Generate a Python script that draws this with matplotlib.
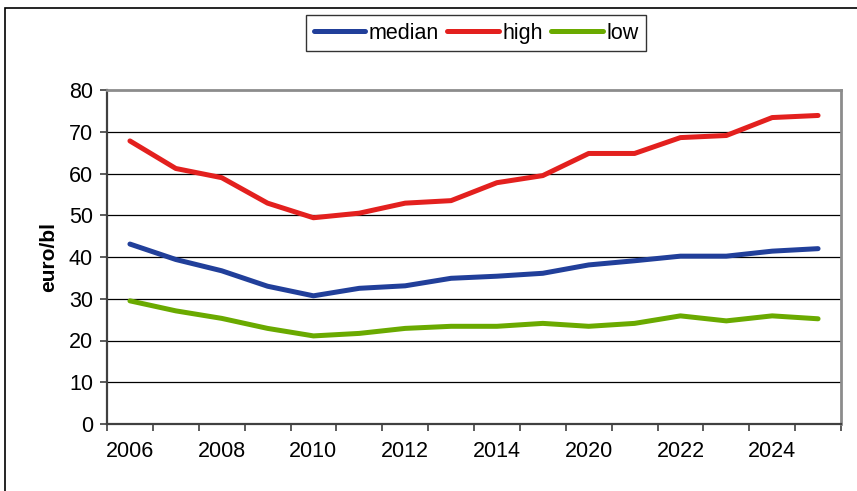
import matplotlib
matplotlib.use("Agg")
import matplotlib.pyplot as plt
from matplotlib.patches import Rectangle
import numpy as np

plt.rcParams['font.family'] = ['Liberation Sans', 'DejaVu Sans']

years = ['2006', '2007', '2008', '2009', '2010', '2011', '2012', '2013',
         '2014', '2015', '2020', '2021', '2022', '2023', '2024', '2025']
median = [43.1, 39.4, 36.7, 33.0, 30.7, 32.5, 33.1, 34.9,
          35.4, 36.1, 38.1, 39.1, 40.2, 40.2, 41.4, 42.0]
high = [67.8, 61.2, 59.0, 52.9, 49.4, 50.5, 52.9, 53.5,
        57.8, 59.5, 64.8, 64.8, 68.6, 69.1, 73.4, 73.9]
low = [29.5, 27.1, 25.3, 22.9, 21.1, 21.7, 22.9, 23.4,
       23.4, 24.1, 23.4, 24.1, 25.9, 24.7, 25.9, 25.2]

fig = plt.figure(figsize=(8.57, 4.91), dpi=100)
ax = fig.add_axes([107/857, 67/491, (841-107)/857, (424-90)/491])

x = np.arange(len(years)) + 0.5
ax.plot(x, median, color='#213f9a', lw=3.6, label='median', solid_capstyle='round')
ax.plot(x, high, color='#e3201e', lw=3.6, label='high', solid_capstyle='round')
ax.plot(x, low, color='#6aaa00', lw=3.6, label='low', solid_capstyle='round')

ax.set_xlim(0, len(years))
ax.set_ylim(0, 80)
ax.set_yticks(range(0, 81, 10))
for v in range(10, 80, 10):
    ax.axhline(v, color='black', lw=0.9, zorder=0)

# boundaries get tick marks, every second category gets a label
ax.set_xticks(np.arange(len(years) + 1))
ax.set_xticklabels([])
ax.set_xticks(x[::2], minor=True)
ax.set_xticklabels(years[::2], minor=True)
ax.tick_params(axis='x', which='major', length=5, width=1.2, color='#404040', direction='out')
ax.tick_params(axis='x', which='minor', length=0, pad=12, labelsize=15.5)
ax.tick_params(axis='y', length=5, width=1.2, color='#404040', pad=5, labelsize=15.5)

ax.set_ylabel('euro/bl', fontsize=15, fontweight='bold', labelpad=8)

for s in ['left', 'bottom']:
    ax.spines[s].set_color('#404040')
    ax.spines[s].set_linewidth(1.6)
for s in ['top', 'right']:
    ax.spines[s].set_color('#8c8c8c')
    ax.spines[s].set_linewidth(2)

leg = fig.legend(loc='upper center', bbox_to_anchor=(476/857, 1 - 15/491), ncol=3,
                 fontsize=15.5, frameon=True, fancybox=False, handlelength=2.4,
                 handletextpad=0.15, columnspacing=0.4, borderpad=0.35,
                 borderaxespad=0)
leg.get_frame().set_edgecolor('black')
leg.get_frame().set_linewidth(1)

fig.add_artist(Rectangle((5/857, -0.1), 1.2, 1 - 8/491 + 0.1, transform=fig.transFigure,
                         fill=False, edgecolor='black', lw=1.2))

fig.savefig('out.png', dpi=100)
